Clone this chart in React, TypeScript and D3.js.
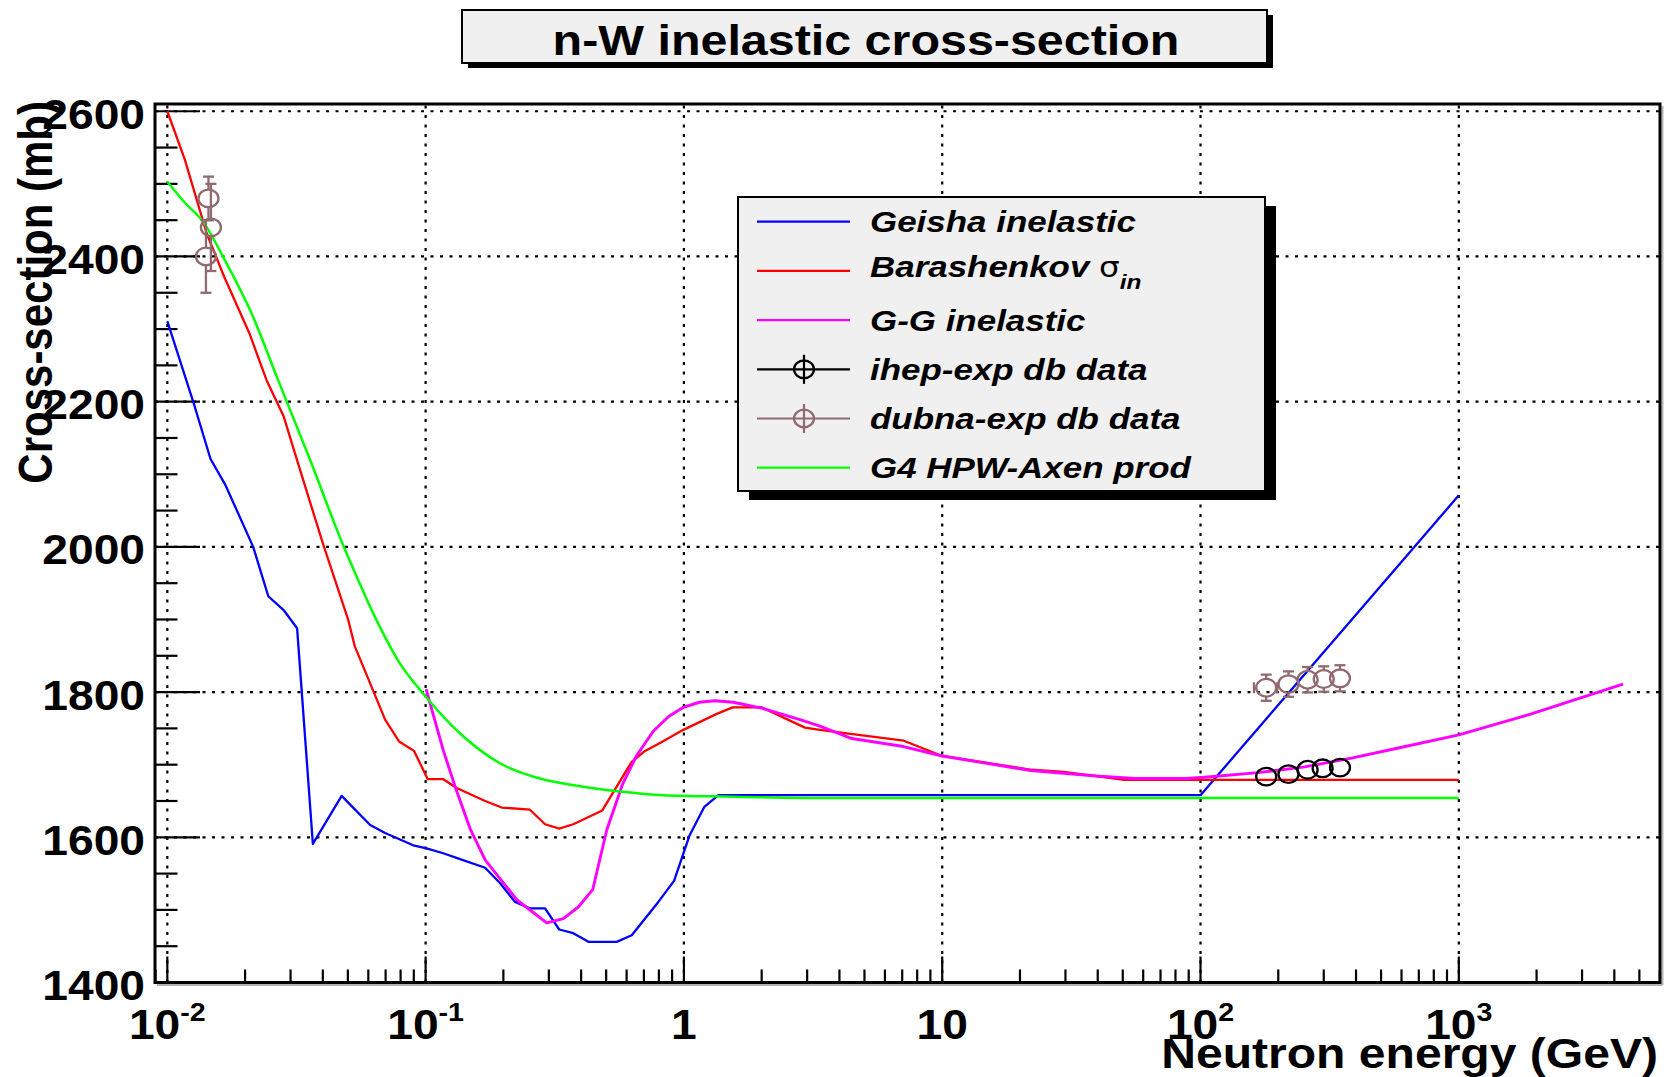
import React from "react";
import * as d3 from "d3";

// ---- Geisha inelastic (blue) ----
const geishaEnergy = [0.01, 0.0127, 0.0147, 0.0168, 0.0215, 0.0246, 0.0282, 0.0318, 0.0366, 0.0473, 0.061, 0.0697, 0.0895, 0.1, 0.117, 0.136, 0.17, 0.194, 0.222, 0.254, 0.29, 0.329, 0.373, 0.427, 0.549, 0.628, 0.796, 0.916, 1.05, 1.2, 1.36, 100, 1000];
const geishaXS = [2311, 2196, 2121, 2085, 2000, 1932, 1913, 1888, 1591, 1657, 1617, 1606, 1589, 1585, 1578, 1570, 1558, 1537, 1511, 1502, 1502, 1473, 1468, 1456, 1456, 1465, 1511, 1540, 1602, 1642, 1658, 1658, 2071];

// ---- Barashenkov sigma_in (red) ----
const barashEnergy = [0.01, 0.0117, 0.0142, 0.0166, 0.0208, 0.0242, 0.0282, 0.0315, 0.04, 0.0502, 0.0532, 0.0697, 0.0789, 0.0902, 0.1019, 0.1171, 0.1319, 0.17, 0.197, 0.2535, 0.29, 0.329, 0.373, 0.483, 0.628, 0.707, 0.808, 0.995, 1.34, 1.545, 2.0, 2.94, 3.36, 4.5, 7.1, 10, 22.2, 29.5, 50.7, 1000];
const barashXS = [2600, 2533, 2432, 2372, 2294, 2230, 2180, 2124, 2005, 1899, 1863, 1762, 1732, 1719, 1680, 1680, 1668, 1650, 1641, 1638, 1618, 1612, 1618, 1637, 1704, 1719, 1730, 1748, 1770, 1779, 1779, 1751, 1748, 1742, 1733, 1712, 1693, 1690, 1679, 1679];

// ---- Glauber-Gribov inelastic (magenta) ----
const ggEnergy = [0.1004, 0.117, 0.13, 0.1486, 0.17, 0.2253, 0.2943, 0.3413, 0.39, 0.4436, 0.5026, 0.58, 0.657, 0.761, 0.87, 0.995, 1.147, 1.318, 1.552, 2.0, 2.815, 3.36, 4.47, 7.08, 10, 22, 40.7, 56, 87.8, 106.6, 167, 253, 384, 583, 1000, 1909, 4320];
const ggXS = [1804, 1720, 1670, 1612, 1569, 1514, 1482, 1488, 1504, 1528, 1610, 1674, 1713, 1746, 1766, 1779, 1786, 1788, 1786, 1778, 1762, 1753, 1736, 1725, 1712, 1692, 1684, 1681, 1681, 1683, 1689, 1697, 1709, 1723, 1741, 1770, 1811];

// ---- G4 HPW-Axen production (green) ----
const axenEnergy = [0.01, 0.0117, 0.01375, 0.01664, 0.02147, 0.02683, 0.0357, 0.0476, 0.0541, 0.0654, 0.0787, 0.1, 0.136, 0.194, 0.277, 0.385, 0.566, 0.832, 1.55, 3.36, 1000];
const axenXS = [2503, 2474, 2448, 2396, 2317, 2230, 2120, 2005, 1959, 1895, 1842, 1794, 1743, 1702, 1681, 1671, 1663, 1658, 1656, 1654, 1654];

// ---- ihep-exp data (black) ----
const ihepEnergy = [179.6, 219, 259.8, 297, 346.7];
const ihepXS = [1683.5, 1687, 1693, 1695, 1696];

// ---- dubna-exp data (brown) ----
const dubnaEnergy = [0.01443, 0.01475, 0.01411, 179.6, 219, 259.8, 300, 346.7];
const dubnaXS = [2480, 2440, 2400, 1806, 1811, 1817, 1818, 1819];
const dubnaXSErr = [30, 60, 50, 18, 17.5, 17.5, 17.5, 18];
const dubnaEnergyErr = [0, 0, 0, 18.6, 0, 0, 0, 0];

// ---- axes ----
const yMajorTicks = [1400, 1600, 1800, 2000, 2200, 2400, 2600];
const xDecades = [0.01, 0.1, 1, 10, 100, 1000];
const xTickBase = ["10", "10", "1", "10", "10", "10"];
const xTickExp = ["-2", "-1", "", "", "2", "3"];

const titleText = "n-W inelastic cross-section";
const xTitle = "Neutron energy (GeV)";
const yTitle = "Cross-section (mb)";
const legendLabels = ["Geisha inelastic", "Barashenkov", "G-G inelastic", "ihep-exp db data", "dubna-exp db data", "G4 HPW-Axen prod"];

const W = 1664;
const H = 1077;
const FONT = "'Liberation Sans', Arial, Helvetica, sans-serif";
const FR = { left: 155, right: 1660, top: 104, bottom: 982.5 };

const BLUE = "#0000ff";
const RED = "#ff0000";
const MAGENTA = "#ff00ff";
const GREEN = "#00ff00";
const BROWN = "#906a6e";

const x = d3.scaleLog().domain([0.00896, 6010]).range([FR.left, FR.right]);
const y = d3.scaleLinear().domain([1400, 2610]).range([FR.bottom, FR.top]);

const zip = (e: number[], v: number[]) => e.map((d, i) => [d, v[i]] as [number, number]);

const polyline = d3
  .line<[number, number]>()
  .x((d) => x(d[0]))
  .y((d) => y(d[1]));
const smooth = d3
  .line<[number, number]>()
  .x((d) => x(d[0]))
  .y((d) => y(d[1]))
  .curve(d3.curveMonotoneX);

const MRX = 10;
const MRY = 8.8;

function SText(props: {
  x: number;
  y: number;
  sx?: number;
  rotate?: number;
  anchor?: string;
  size: number;
  weight?: string;
  italic?: boolean;
  fill?: string;
  children: React.ReactNode;
}) {
  const { sx = 1.1, rotate, anchor = "start", size, weight = "bold", italic, fill = "#000" } = props;
  return (
    <text
      transform={`translate(${props.x},${props.y}) scale(${sx},1)${rotate !== undefined ? ` rotate(${rotate})` : ""}`}
      textAnchor={anchor}
      fontFamily={FONT}
      fontSize={size}
      fontWeight={weight}
      fontStyle={italic ? "italic" : "normal"}
      fill={fill}
    >
      {props.children}
    </text>
  );
}

function Marker({ cx, cy, color }: { cx: number; cy: number; color: string }) {
  return <ellipse cx={cx} cy={cy} rx={MRX} ry={MRY} fill="none" stroke={color} strokeWidth={2.3} />;
}

export default function App() {
  const xMinor: number[] = [];
  for (let e = -3; e <= 3; e++) {
    for (let m = 2; m <= 9; m++) {
      const v = m * Math.pow(10, e);
      if (v > x.domain()[0] && v < x.domain()[1]) xMinor.push(v);
    }
  }
  const yMinor = d3.range(1400, 2611, 50).filter((v) => v % 200 !== 0);

  const dubnaPts = dubnaEnergy.map((e, i) => ({ e, v: dubnaXS[i], err: dubnaXSErr[i], eerr: dubnaEnergyErr[i] }));
  const ihepPts = zip(ihepEnergy, ihepXS);

  const legTop = 197;
  const legLeft = 738;
  const legW = 527;
  const legH = 294;
  const rowY = (i: number) => 221.7 + i * 49.2;
  const legendColors = [BLUE, RED, MAGENTA, "#000", BROWN, GREEN];

  return (
    <svg
      width={W}
      height={H}
      viewBox={`0 0 ${W} ${H}`}
      style={{ position: "absolute", left: 0, top: 0, display: "block", background: "#fff" }}
    >
      <rect x={0} y={0} width={W} height={H} fill="#fff" />

      {/* frame shadow edges */}
      <line x1={FR.right + 2.5} x2={FR.right + 2.5} y1={FR.top + 2} y2={FR.bottom + 2.5} stroke="#b4b4b4" strokeWidth={2} />
      <line x1={FR.left + 2} x2={FR.right + 2.5} y1={FR.bottom + 2.5} y2={FR.bottom + 2.5} stroke="#b4b4b4" strokeWidth={2} />

      {/* grid */}
      <g stroke="#000" strokeWidth={2.2} strokeDasharray="3 6.5">
        {xDecades.map((d) => (
          <line key={`gx${d}`} x1={x(d)} x2={x(d)} y1={FR.bottom} y2={FR.top} />
        ))}
        {yMajorTicks.slice(1).map((v) => (
          <line key={`gy${v}`} x1={FR.left} x2={FR.right} y1={y(v)} y2={y(v)} />
        ))}
      </g>

      {/* ticks */}
      <g stroke="#000" strokeWidth={2.2}>
        {yMajorTicks.map((v) => (
          <line key={`ty${v}`} x1={FR.left} x2={FR.left + 45} y1={y(v)} y2={y(v)} />
        ))}
        {yMinor.map((v) => (
          <line key={`tym${v}`} x1={FR.left} x2={FR.left + 22.5} y1={y(v)} y2={y(v)} />
        ))}
        {xDecades.map((d) => (
          <line key={`tx${d}`} x1={x(d)} x2={x(d)} y1={FR.bottom} y2={FR.bottom - 26} />
        ))}
        {xMinor.map((d) => (
          <line key={`txm${d}`} x1={x(d)} x2={x(d)} y1={FR.bottom} y2={FR.bottom - 13} />
        ))}
      </g>

      {/* curves */}
      <g fill="none" strokeLinejoin="round">
        <path d={polyline(zip(geishaEnergy, geishaXS)) || ""} stroke={BLUE} strokeWidth={2.3} />
        <path d={polyline(zip(barashEnergy, barashXS)) || ""} stroke={RED} strokeWidth={2.3} />
        <path d={polyline(zip(ggEnergy, ggXS)) || ""} stroke={MAGENTA} strokeWidth={2.9} />
        <path d={smooth(zip(axenEnergy, axenXS)) || ""} stroke={GREEN} strokeWidth={2.5} />
      </g>

      {/* ihep points */}
      {ihepPts.map(([e, v], i) => (
        <Marker key={`ih${i}`} cx={x(e)} cy={y(v)} color="#000" />
      ))}

      {/* dubna points with error bars */}
      {dubnaPts.map((p, i) => {
        const cx = x(p.e);
        const cy = y(p.v);
        const yt = y(p.v + p.err);
        const yb = y(p.v - p.err);
        const parts: React.ReactNode[] = [];
        if (cy - yt > MRY) {
          parts.push(<line key="a" x1={cx} x2={cx} y1={yt} y2={cy - MRY} />);
          parts.push(<line key="b" x1={cx} x2={cx} y1={cy + MRY} y2={yb} />);
          parts.push(<line key="c" x1={cx - 5.5} x2={cx + 5.5} y1={yt} y2={yt} />);
          parts.push(<line key="d" x1={cx - 5.5} x2={cx + 5.5} y1={yb} y2={yb} />);
        }
        if (p.eerr > 0) {
          const xl = x(p.e - p.eerr);
          const xr = x(p.e + p.eerr);
          parts.push(<line key="e" x1={xl} x2={cx - MRX} y1={cy} y2={cy} />);
          parts.push(<line key="f" x1={cx + MRX} x2={xr} y1={cy} y2={cy} />);
          parts.push(<line key="g" x1={xl} x2={xl} y1={cy - 5.5} y2={cy + 5.5} />);
          parts.push(<line key="h" x1={xr} x2={xr} y1={cy - 5.5} y2={cy + 5.5} />);
        }
        return (
          <g key={`db${i}`} stroke={BROWN} strokeWidth={2.3}>
            {parts}
            <Marker cx={cx} cy={cy} color={BROWN} />
          </g>
        );
      })}

      {/* frame */}
      <rect x={FR.left} y={FR.top} width={FR.right - FR.left} height={FR.bottom - FR.top} fill="none" stroke="#000" strokeWidth={3} />

      {/* y tick labels */}
      {yMajorTicks.map((v) => (
        <SText key={`ly${v}`} x={145} y={y(v) + 17.5} anchor="end" size={42} sx={1.1}>
          {String(v)}
        </SText>
      ))}

      {/* x tick labels */}
      {xDecades.map((d, i) => (
        <SText key={`lx${d}`} x={x(d)} y={1039} anchor="middle" size={42} sx={1.1}>
          {xTickBase[i]}
          {xTickExp[i] ? (
            <tspan fontSize={26} dy={-18.5}>
              {xTickExp[i]}
            </tspan>
          ) : null}
        </SText>
      ))}

      {/* axis titles */}
      <SText x={1658} y={1068} anchor="end" size={42} sx={1.145}>
        {xTitle}
      </SText>
      <SText x={52} y={101} anchor="end" size={42} sx={1.15} rotate={-90}>
        {yTitle}
      </SText>

      {/* title */}
      <rect x={468} y={15} width={805} height={53} fill="#000" />
      <rect x={462} y={10} width={805} height={53} fill="#f0f0f0" stroke="#000" strokeWidth={2} />
      <SText x={866} y={55} anchor="middle" size={42} sx={1.153}>
        {titleText}
      </SText>

      {/* legend */}
      <rect x={legLeft + 11} y={legTop + 9} width={legW} height={legH} fill="#000" />
      <rect x={legLeft} y={legTop} width={legW} height={legH} fill="#f0f0f0" stroke="#000" strokeWidth={2} />
      {legendLabels.map((lab, i) => {
        const ly = rowY(i);
        const col = legendColors[i];
        const isData = i === 3 || i === 4;
        return (
          <g key={`lg${i}`}>
            <line x1={757} x2={850} y1={ly} y2={ly} stroke={col} strokeWidth={2.2} />
            {isData ? (
              <g stroke={col} strokeWidth={2.2}>
                <line x1={804} x2={804} y1={ly - 14.5} y2={ly + 14.5} />
                <Marker cx={804} cy={ly} color={col} />
              </g>
            ) : null}
            {i === 1 ? (
              <SText x={870} y={ly + 6} size={30} sx={1.165} italic>
                {lab}{" "}
                <tspan fontStyle="normal" fontWeight="normal" fontFamily="'DejaVu Sans', sans-serif" fontSize={28}>
                  σ
                </tspan>
                <tspan fontSize={21} dy={12}>
                  in
                </tspan>
              </SText>
            ) : (
              <SText x={870} y={ly + 10.5} size={30} sx={1.165} italic>
                {lab}
              </SText>
            )}
          </g>
        );
      })}
    </svg>
  );
}
